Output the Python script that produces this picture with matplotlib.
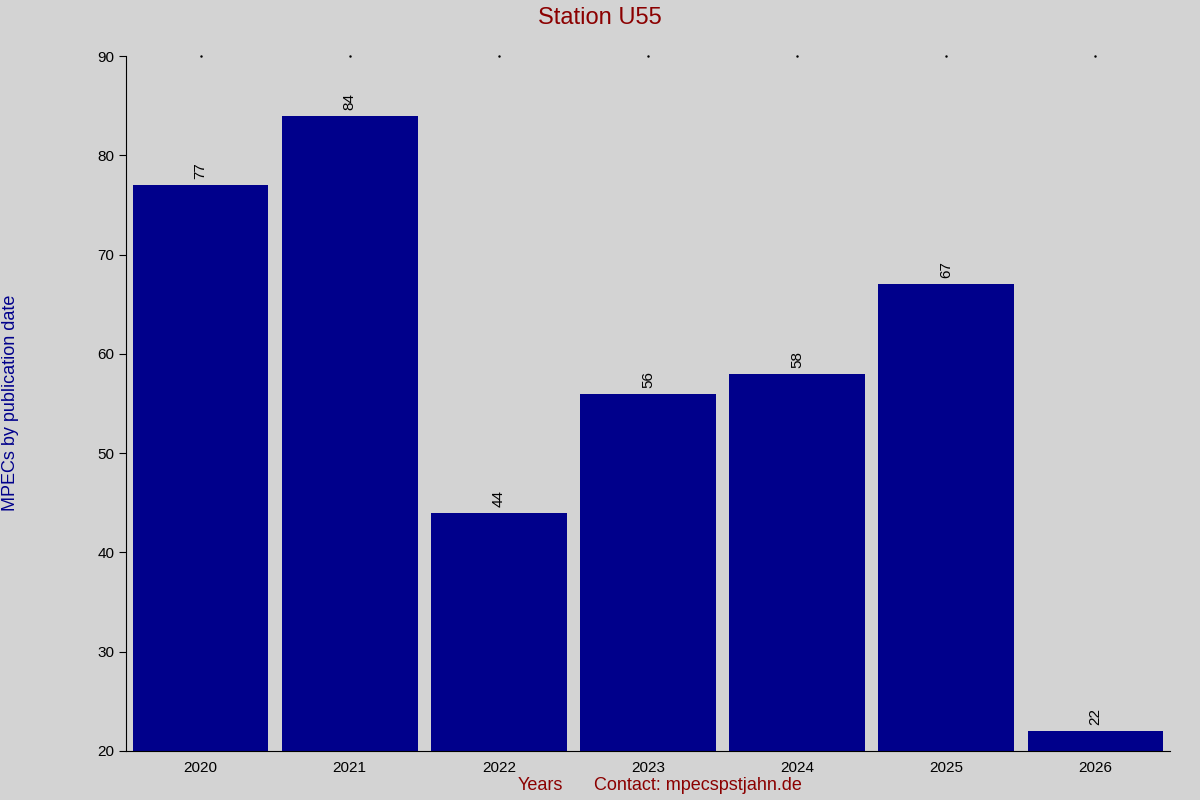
import matplotlib
matplotlib.use("Agg")
import matplotlib.pyplot as plt

years = ["2020", "2021", "2022", "2023", "2024", "2025", "2026"]
counts = [77, 84, 44, 56, 58, 67, 22]

plt.rcParams['font.family'] = ['Liberation Sans', 'DejaVu Sans']
fig = plt.figure(figsize=(12, 8), dpi=100, facecolor='#d3d3d3')
ax = fig.add_axes([126/1200, 1-751/800, (1170-126)/1200, (751-56)/800])
ax.set_facecolor('#d3d3d3')
x = list(range(len(years)))
ax.bar(x, counts, width=0.91, color='#00008b', bottom=0)
for xi, c in zip(x, counts):
    ax.text(xi, c + 0.6, str(c), rotation=90, ha='center', va='bottom', fontsize=11, color='black')
ax.set_xlim(-0.5, 6.5)
ax.set_ylim(20, 90)
ax.set_yticks(range(20, 91, 10))
ax.set_xticks(x)
ax.set_xticklabels(years)
ax.tick_params(axis='x', length=0, pad=7, labelsize=11, top=True)
ax.tick_params(axis='y', length=5, labelsize=11, direction='out')
for s in ['top', 'right']:
    ax.spines[s].set_visible(False)
for xi in x:
    ax.plot(xi, 90, marker='.', markersize=1.5, color='black', clip_on=False)
fig.text(0.5, 1-18/800, "Station U55", ha='center', va='center', fontsize=17, color='#8b0000')
fig.text(540/1200, 1-786/800, "Years", ha='center', va='center', fontsize=13, color='#8b0000')
fig.text(698/1200, 1-786/800, "Contact: mpecspstjahn.de", ha='center', va='center', fontsize=13, color='#8b0000')
fig.text(11/1200, 1-403/800, "MPECs by publication date", rotation=90, ha='center', va='center', fontsize=13, color='#00008b')
fig.savefig("out.png", dpi=100, facecolor=fig.get_facecolor())
